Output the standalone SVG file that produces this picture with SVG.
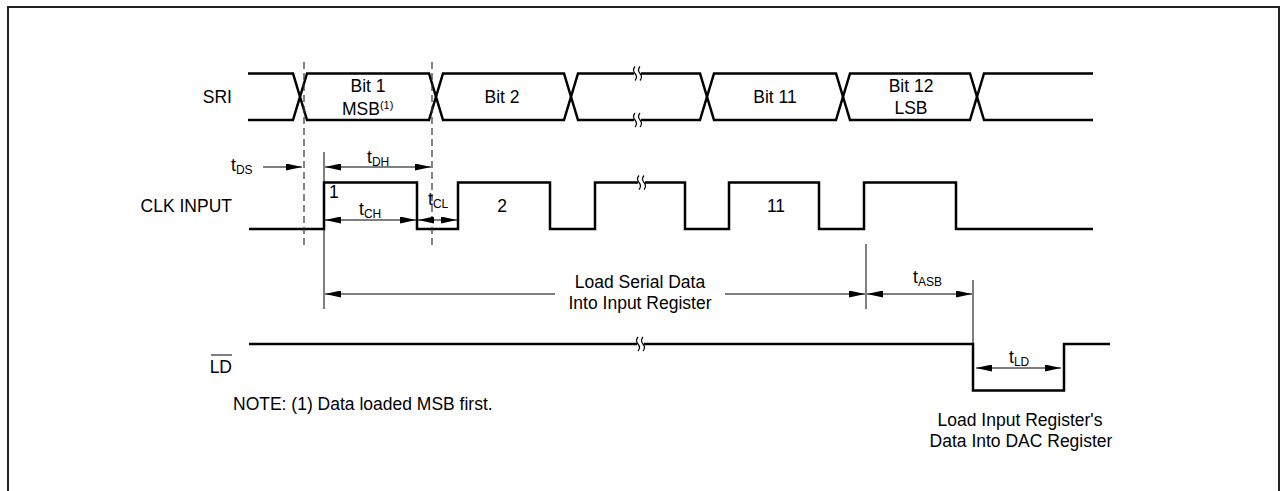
<svg xmlns="http://www.w3.org/2000/svg" width="1287" height="491" viewBox="0 0 1287 491">
<style>
.sig{fill:none;stroke:#000;stroke-width:2.5;stroke-linejoin:miter}
.thin{fill:none;stroke:#000;stroke-width:1}
.dash{fill:none;stroke:#333;stroke-width:1.2;stroke-dasharray:7,4}
.arr{fill:none;stroke:#000;stroke-width:1.2;marker-end:url(#ah)}
.arr2{fill:none;stroke:#000;stroke-width:1.2;marker-start:url(#ah);marker-end:url(#ah)}
text{font-family:"Liberation Sans",Arial,sans-serif;font-size:17.5px;fill:#000}
.c{text-anchor:middle}
.r{text-anchor:end}
.sub{font-size:12px}
.brk{fill:none;stroke:#000;stroke-width:1.2}
.gap{fill:#fff;stroke:none}
</style>
<defs>
<marker id="ah" markerUnits="userSpaceOnUse" markerWidth="16" markerHeight="7" refX="16" refY="3.5" orient="auto-start-reverse">
<path d="M0,0 L16,3.5 L0,7 z" fill="#000"/>
</marker>
</defs>
<rect x="8" y="7" width="1271" height="500" fill="#fff" stroke="#222" stroke-width="2"/>

<g id="labels">
<text class="r" x="232" y="103">SRI</text>
<text class="r" x="232" y="212">CLK INPUT</text>
<text class="r" x="232" y="373">LD</text>
<line x1="211" y1="355" x2="232" y2="355" class="thin"/>
<text x="233" y="410">NOTE: (1) Data loaded MSB first.</text>
</g>

<g id="sri">
<path class="sig" d="M248,73.5 H293 L307,120 H429 L443,73.5 H564 L578,120 H700 L714,73.5 H836 L850,120 H970 L984,73.5 H1093"/>
<path class="sig" d="M248,120 H293 L307,73.5 H429 L443,120 H564 L578,73.5 H700 L714,120 H836 L850,73.5 H970 L984,120 H1093"/>
<rect class="gap" x="634" y="68" width="7" height="11"/>
<rect class="gap" x="634" y="114.5" width="7" height="11"/>
<path class="brk" d="M635,66.5 q-3,3.5 0,7 q3,3.5 0,7 M640,66.5 q-3,3.5 0,7 q3,3.5 0,7"/>
<path class="brk" d="M635,113 q-3,3.5 0,7 q3,3.5 0,7 M640,113 q-3,3.5 0,7 q3,3.5 0,7"/>
<text class="c" x="368" y="92">Bit 1</text>
<text x="342" y="115">MSB<tspan font-size="11" dy="-6">(1)</tspan></text>
<text class="c" x="502" y="103">Bit 2</text>
<text class="c" x="775" y="103">Bit 11</text>
<text class="c" x="911" y="92">Bit 12</text>
<text class="c" x="911" y="114">LSB</text>
</g>

<g id="clk">
<path class="sig" d="M249,229 H324 V182.5 H417 V229 H458 V182.5 H550 V229 H595 V182.5 H685 V229 H729 V182.5 H819 V229 H864 V182.5 H956 V229 H1093"/>
<rect class="gap" x="638" y="177" width="7" height="11"/>
<path class="brk" d="M639,175.5 q-3,3.5 0,7 q3,3.5 0,7 M644,175.5 q-3,3.5 0,7 q3,3.5 0,7"/>
<text x="329" y="198">1</text>
<text class="c" x="502" y="212">2</text>
<text class="c" x="776" y="212">11</text>
</g>

<g id="ld">
<path class="sig" d="M249,344 H973 V390.5 H1064 V344 H1110"/>
<rect class="gap" x="637" y="338.5" width="7" height="11"/>
<path class="brk" d="M638,337 q-3,3.5 0,7 q3,3.5 0,7 M643,337 q-3,3.5 0,7 q3,3.5 0,7"/>
<text class="c" x="1020" y="426">Load Input Register's</text>
<text class="c" x="1021" y="447">Data Into DAC Register</text>
</g>

<g id="connectors">
<line class="dash" x1="304" y1="62" x2="304" y2="247"/>
<line class="dash" x1="432" y1="62" x2="432" y2="247"/>
<line class="thin" x1="324" y1="152" x2="324" y2="309"/>
<line class="thin" x1="866" y1="244" x2="866" y2="309"/>
<line class="thin" x1="973" y1="280" x2="973" y2="344"/>
<line class="arr" x1="263" y1="167" x2="302" y2="167"/>
<line class="arr2" x1="325" y1="167" x2="431" y2="167"/>
<line class="arr2" x1="325" y1="220" x2="416" y2="220"/>
<line class="arr2" x1="418" y1="220" x2="457" y2="220"/>
<line class="arr" x1="555" y1="294" x2="325" y2="294"/>
<line class="arr" x1="725" y1="294" x2="865" y2="294"/>
<line class="arr2" x1="867" y1="294" x2="972" y2="294"/>
<line class="arr2" x1="976" y1="368" x2="1061" y2="368"/>
<text x="231" y="171">t<tspan class="sub" dy="3">DS</tspan></text>
<text x="367" y="163">t<tspan class="sub" dy="3">DH</tspan></text>
<text x="359" y="215">t<tspan class="sub" dy="3">CH</tspan></text>
<text x="428" y="205">t<tspan class="sub" dy="3">CL</tspan></text>
<text x="913" y="283">t<tspan class="sub" dy="3">ASB</tspan></text>
<text x="1009" y="363">t<tspan class="sub" dy="3">LD</tspan></text>
<text class="c" x="640" y="288">Load Serial Data</text>
<text class="c" x="640" y="309">Into Input Register</text>
</g>
</svg>
